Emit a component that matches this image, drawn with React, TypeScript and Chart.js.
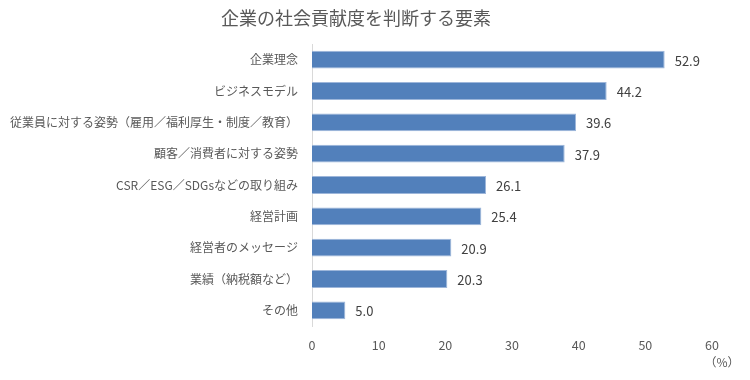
import React, { useEffect, useRef } from "react";
import { Chart, registerables } from "chart.js";

Chart.register(...registerables);

const title = "企業の社会貢献度を判断する要素";
const categories = [
  "企業理念",
  "ビジネスモデル",
  "従業員に対する姿勢（雇用／福利厚生・制度／教育）",
  "顧客／消費者に対する姿勢",
  "CSR／ESG／SDGsなどの取り組み",
  "経営計画",
  "経営者のメッセージ",
  "業績（納税額など）",
  "その他",
];
const values = [52.9, 44.2, 39.6, 37.9, 26.1, 25.4, 20.9, 20.3, 5.0];
const xMin = 0;
const xMax = 60;
const xStep = 10;
const unitLabel = "（%）";

const FONT = "'Noto Sans CJK JP', 'Noto Sans', sans-serif";

const valueLabelPlugin = {
  id: "valueLabels",
  afterDatasetsDraw(chart: any) {
    const { ctx } = chart;
    const meta = chart.getDatasetMeta(0);
    ctx.save();
    ctx.font = `13px ${FONT}`;
    ctx.fillStyle = "#404040";
    ctx.textAlign = "left";
    ctx.textBaseline = "middle";
    meta.data.forEach((bar: any, i: number) => {
      ctx.fillText(values[i].toFixed(1), bar.x + 10, bar.y + 1);
    });
    ctx.restore();
  },
};

const unitPlugin = {
  id: "unitLabel",
  afterDraw(chart: any) {
    const { ctx } = chart;
    const xs = chart.scales.x;
    ctx.save();
    ctx.font = `12px ${FONT}`;
    ctx.fillStyle = "#595959";
    ctx.textAlign = "center";
    ctx.textBaseline = "middle";
    ctx.fillText(unitLabel, xs.right + 10, 362);
    ctx.restore();
  },
};

export default function App() {
  const ref = useRef<HTMLCanvasElement | null>(null);
  useEffect(() => {
    if (!ref.current) return;
    const chart = new Chart(ref.current, {
      type: "bar",
      data: {
        labels: categories,
        datasets: [
          {
            data: values,
            backgroundColor: "#5280BB",
            borderColor: "#9DB6DA",
            borderWidth: 1,
            barPercentage: 0.57,
            categoryPercentage: 1,
          },
        ],
      },
      options: {
        indexAxis: "y",
        animation: false,
        responsive: false,
        layout: { padding: { left: 0, right: 38, top: 0, bottom: 24 } },
        plugins: {
          legend: { display: false },
          tooltip: { enabled: false },
          title: {
            display: true,
            text: title,
            color: "#595959",
            font: { family: FONT, size: 18, weight: "normal" },
            padding: { top: 7, bottom: 15.4 },
          },
        },
        scales: {
          x: {
            min: xMin,
            max: xMax,
            ticks: {
              stepSize: xStep,
              color: "#595959",
              font: { family: FONT, size: 12.5 },
              padding: 12,
            },
            grid: { display: false, drawTicks: false },
            border: { display: false },
            afterFit: (s: any) => {
              s.height = 30;
            },
          },
          y: {
            ticks: {
              color: "#595959",
              font: { family: FONT, size: 12 },
              padding: 14,
            },
            grid: { display: false, drawTicks: false },
            border: { display: true, color: "#D9D9D9", width: 1 },
            afterFit: (s: any) => {
              s.width = 312;
            },
          },
        },
      },
      plugins: [valueLabelPlugin, unitPlugin],
    });
    return () => chart.destroy();
  }, []);
  return (
    <div style={{ position: "fixed", left: 0, top: 0, width: 750, height: 380, background: "#fff" }}>
      <canvas ref={ref} width={750} height={380} />
    </div>
  );
}
